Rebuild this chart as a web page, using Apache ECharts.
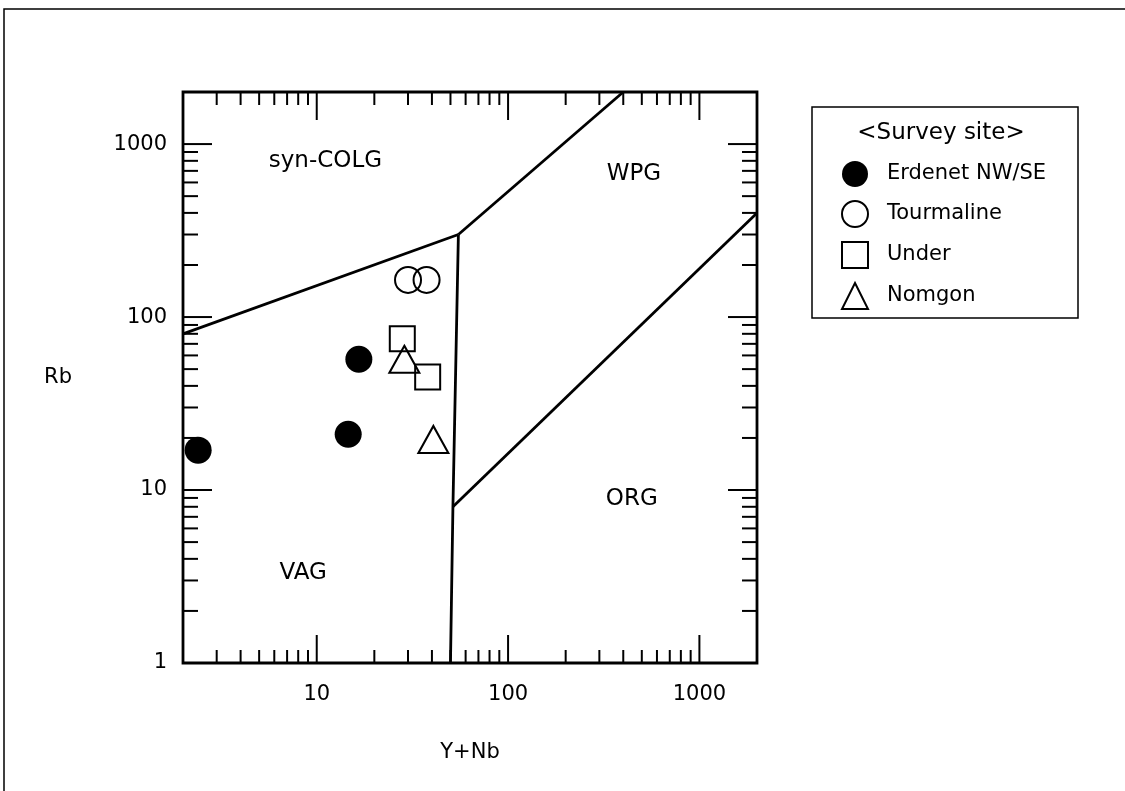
<!DOCTYPE html>
<html>
<head>
<meta charset="utf-8">
<script src="https://cdn.jsdelivr.net/npm/echarts@6/dist/echarts.min.js"></script>
<style>
  html, body { margin: 0; padding: 0; background: #fff; }
  #chart { width: 1125px; height: 791px; }
</style>
</head>
<body>
<div id="chart"></div>
<script>
// 轴范围
const X_MIN = 2, X_MAX = 2000;
const Y_MIN = 1, Y_MAX = 2000;

// 刻度位置（对数刻度 2..9 每个十倍程）
const xTicks = [3, 4, 5, 6, 7, 8, 9, 10, 20, 30, 40, 50, 60, 70, 80, 90,
  100, 200, 300, 400, 500, 600, 700, 800, 900, 1000];
const yTicks = [2, 3, 4, 5, 6, 7, 8, 9, 10, 20, 30, 40, 50, 60, 70, 80, 90,
  100, 200, 300, 400, 500, 600, 700, 800, 900, 1000];

// 判别图边界线
const colgVagLine = [[2, 80], [55, 300]];
const wpgColgLine = [[55, 300], [400, 2000]];
const vagOrgLine = [[55, 300], [51.5, 8], [50, 1]];
const wpgOrgLine = [[51.5, 8], [2000, 400]];

// 区域名称
const zoneLabels = [
  [11.1, 800, "syn-COLG"],
  [8.5, 3.3, "VAG"],
  [455, 670, "WPG"],
  [443, 8.9, "ORG"]
];

// 样品数据 [Y+Nb, Rb]
const erdenet = [[2.4, 17], [14.6, 21], [16.6, 57]];
const tourmaline = [[30, 164], [37.5, 164]];
const under = [[28, 75], [38, 45]];
const nomgon = [[28.7, 57], [40.7, 19.6]];

const isDecade = (v) => Math.abs(Math.log10(v) - Math.round(Math.log10(v))) < 1e-6;

const chart = echarts.init(document.getElementById("chart"));

const boundaryStyle = { color: "#000", width: 2.8 };
const lineSeries = (data) => ({
  type: "line",
  data: data,
  symbol: "none",
  silent: true,
  lineStyle: boundaryStyle,
  z: 3
});

const renderXTick = (params, api) => {
  const v = api.value(0);
  const len = isDecade(v) ? 28 : 13;
  const b = api.coord([v, Y_MIN]);
  const t = api.coord([v, Y_MAX]);
  const style = { stroke: "#000", lineWidth: 2 };
  return {
    type: "group",
    children: [
      { type: "line", shape: { x1: b[0], y1: b[1], x2: b[0], y2: b[1] - len }, style: style },
      { type: "line", shape: { x1: t[0], y1: t[1], x2: t[0], y2: t[1] + len }, style: style }
    ]
  };
};

const renderYTick = (params, api) => {
  const v = api.value(1);
  const len = isDecade(v) ? 29 : 15;
  const l = api.coord([X_MIN, v]);
  const r = api.coord([X_MAX, v]);
  const style = { stroke: "#000", lineWidth: 2 };
  return {
    type: "group",
    children: [
      { type: "line", shape: { x1: l[0], y1: l[1], x2: l[0] + len, y2: l[1] }, style: style },
      { type: "line", shape: { x1: r[0], y1: r[1], x2: r[0] - len, y2: r[1] }, style: style }
    ]
  };
};

const labelFont = {
  color: "#000",
  fontFamily: "DejaVu Sans",
  fontSize: 21
};

const openStyle = { color: "transparent", borderColor: "#000", borderWidth: 2, opacity: 1 };

chart.setOption({
  animation: false,
  backgroundColor: "#fff",
  grid: {
    left: 183,
    top: 92,
    right: 368,
    bottom: 128,
    show: true,
    borderColor: "#000",
    borderWidth: 2.8,
    backgroundColor: "transparent"
  },
  graphic: [
    {
      type: "rect",
      shape: { x: 4, y: 9, width: 1200, height: 900 },
      style: { fill: "none", stroke: "#000", lineWidth: 1.5 },
      silent: true
    },
    {
      type: "rect",
      shape: { x: 812, y: 107, width: 266, height: 211 },
      style: { fill: "none", stroke: "#000", lineWidth: 1.5 },
      silent: true
    },
    {
      type: "text",
      x: 941,
      y: 133,
      style: {
        text: "<Survey site>",
        fill: "#000",
        fontFamily: "DejaVu Sans",
        fontSize: 23,
        textAlign: "center",
        textVerticalAlign: "middle"
      },
      silent: true
    }
  ],
  legend: {
    data: ["Erdenet NW/SE", "Tourmaline", "Under", "Nomgon"],
    orient: "vertical",
    left: 841,
    top: 161,
    padding: 0,
    itemGap: 13,
    itemWidth: 26,
    itemHeight: 26,
    symbolKeepAspect: true,
    textStyle: {
      color: "#000",
      fontFamily: "DejaVu Sans",
      fontSize: 21,
      padding: [0, 0, 0, 14]
    },
    selectedMode: false
  },
  xAxis: {
    type: "log",
    logBase: 10,
    min: X_MIN,
    max: X_MAX,
    name: "Y+Nb",
    nameLocation: "middle",
    nameGap: 79,
    nameTextStyle: labelFont,
    axisLine: { show: false },
    axisTick: { show: false },
    splitLine: { show: false },
    axisLabel: {
      margin: 21,
      ...labelFont,
      formatter: (v) => (isDecade(v) ? String(Math.round(v)) : "")
    }
  },
  yAxis: {
    type: "log",
    logBase: 10,
    min: Y_MIN,
    max: Y_MAX,
    name: "Rb",
    nameLocation: "middle",
    nameRotate: 0,
    nameGap: 111,
    nameTextStyle: labelFont,
    axisLine: { show: false },
    axisTick: { show: false },
    splitLine: { show: false },
    axisLabel: {
      margin: 16,
      ...labelFont,
      formatter: (v) => (isDecade(v) ? String(Math.round(v)) : "")
    }
  },
  series: [
    {
      type: "custom",
      name: "xTicks",
      silent: true,
      renderItem: renderXTick,
      data: xTicks.map((v) => [v, Y_MIN]),
      z: 2
    },
    {
      type: "custom",
      name: "yTicks",
      silent: true,
      renderItem: renderYTick,
      data: yTicks.map((v) => [X_MIN, v]),
      z: 2
    },
    lineSeries(colgVagLine),
    lineSeries(wpgColgLine),
    lineSeries(vagOrgLine),
    lineSeries(wpgOrgLine),
    {
      type: "scatter",
      name: "zones",
      silent: true,
      symbolSize: 0,
      itemStyle: { opacity: 1 },
      data: zoneLabels,
      label: {
        show: true,
        position: "inside",
        formatter: (p) => p.value[2],
        color: "#000",
        fontFamily: "DejaVu Sans",
        fontSize: 23
      }
    },
    {
      type: "scatter",
      name: "Erdenet NW/SE",
      symbol: "circle",
      symbolSize: 27,
      symbolKeepAspect: true,
      itemStyle: { color: "#000", opacity: 1 },
      data: erdenet,
      z: 5
    },
    {
      type: "scatter",
      name: "Tourmaline",
      symbol: "circle",
      symbolSize: 26,
      symbolKeepAspect: true,
      itemStyle: openStyle,
      data: tourmaline,
      z: 5
    },
    {
      type: "scatter",
      name: "Under",
      symbol: "rect",
      symbolSize: 25,
      symbolKeepAspect: true,
      itemStyle: openStyle,
      data: under,
      z: 5
    },
    {
      type: "scatter",
      name: "Nomgon",
      symbol: "triangle",
      symbolSize: [30, 27],
      symbolKeepAspect: true,
      itemStyle: openStyle,
      data: nomgon,
      z: 5
    }
  ]
});

window.addEventListener("resize", () => chart.resize());
</script>
</body>
</html>
